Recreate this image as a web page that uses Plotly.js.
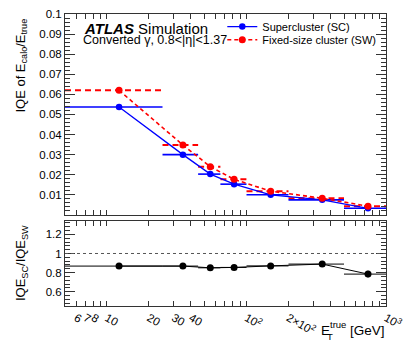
<!DOCTYPE html>
<html><head><meta charset="utf-8">
<script src="https://cdn.plot.ly/plotly-3.0.1.min.js"></script>
<style>html,body{margin:0;padding:0;background:#fff}</style>
</head><body><div id="plot" style="width:407px;height:344px"></div>
<script>
const binLo = [5, 25, 45, 65, 100, 200, 500];
const binHi = [25, 45, 65, 100, 200, 500, 1000];
const etMean = [12.2, 35, 55, 81.5, 149, 349, 743];
const iqeSC = [0.0537, 0.0300, 0.0203, 0.0153, 0.0100, 0.0075, 0.0033];
const iqeSW = [0.0620, 0.0348, 0.0240, 0.0177, 0.0118, 0.0083, 0.0043];
const ratio = [0.868, 0.868, 0.850, 0.854, 0.870, 0.889, 0.784];
const ratioErr = [0.006, 0.006, 0.006, 0.006, 0.006, 0.008, 0.035];
const xTickVals = [6, 7, 8, 10, 20, 30, 40, 100, 200, 1000];
const xTickText = ['6', '7', '8', '10', '20', '30', '40', '10<sup>2</sup>', '2×10<sup>2</sup>', '10<sup>3</sup>'];
const xMinorVals = [5, 9, 50, 60, 70, 80, 90, 300, 400, 500, 600, 700, 800, 900];
const xMajorVals = [10, 100, 1000];
const yTopVals = [0.01, 0.02, 0.03, 0.04, 0.05, 0.06, 0.07, 0.08, 0.09, 0.1];
const yTopText = ['0.01', '0.02', '0.03', '0.04', '0.05', '0.06', '0.07', '0.08', '0.09', '0.1'];
const yBotVals = [0.6, 0.8, 1, 1.2];
const yBotText = ['0.6', '0.8', '1', '1.2'];

function hbars(lo, hi, v) {
  const x = [], y = [];
  for (let i = 0; i < v.length; i++) { x.push(lo[i], hi[i], null); y.push(v[i], v[i], null); }
  return {x, y};
}
const blue = '#0000ff', red = '#ff0000';
const bSC = hbars(binLo, binHi, iqeSC), bSW = hbars(binLo, binHi, iqeSW), bR = hbars(binLo, binHi, ratio);
const font = 'Liberation Sans, Arial, sans-serif';
const traces = [
  {x: bSW.x, y: bSW.y, xaxis: 'x2', yaxis: 'y2', mode: 'lines', line: {color: red, width: 2, dash: '6px,4px'}, showlegend: false, hoverinfo: 'skip'},
  {x: bSC.x, y: bSC.y, xaxis: 'x2', yaxis: 'y2', mode: 'lines', line: {color: blue, width: 1.6}, showlegend: false, hoverinfo: 'skip'},
  {x: etMean, y: iqeSC, xaxis: 'x2', yaxis: 'y2', mode: 'lines+markers', name: 'Supercluster (SC)', legend: 'legend',
   line: {color: blue, width: 1.3}, marker: {color: blue, size: 6.5, symbol: 'circle'}},
  {x: etMean, y: iqeSW, xaxis: 'x2', yaxis: 'y2', mode: 'lines+markers', name: 'Fixed-size cluster (SW)', legend: 'legend2',
   line: {color: red, width: 1.6, dash: '4px,3px'}, marker: {color: red, size: 7, symbol: 'circle'}},
  {x: bR.x, y: bR.y, xaxis: 'x', yaxis: 'y', mode: 'lines', line: {color: '#000', width: 1}, showlegend: false, hoverinfo: 'skip'},
  {x: etMean, y: ratio, xaxis: 'x', yaxis: 'y', mode: 'lines+markers', showlegend: false,
   line: {color: '#000', width: 1}, marker: {color: '#000', size: 7},
   error_y: {type: 'data', array: ratioErr, visible: true, color: '#000', thickness: 1, width: 0}}
];
const frame = {showline: true, linecolor: '#333', linewidth: 1, mirror: 'allticks', ticks: 'inside', tickcolor: '#333', zeroline: false, showgrid: false};
const xr = [Math.log10(5), 3];
const tickFont = {family: font, size: 11.5, color: '#000'};
function xaxisBase(extra) {
  return Object.assign({}, frame, {type: 'log', range: xr, tickmode: 'array', tickvals: xTickVals, ticktext: xTickText, ticklen: 5,
    minor: {tickmode: 'array', tickvals: xMinorVals, ticklen: 5, ticks: 'inside', tickcolor: '#333', showgrid: false},
    tickfont: tickFont}, extra);
}
const legFont = {family: font, size: 11, color: '#000'};
const layout = {
  width: 407, height: 344,
  margin: {l: 65, r: 21, t: 14, b: 38},
  paper_bgcolor: '#fff', plot_bgcolor: '#fff',
  font: {family: font, size: 12, color: '#000'},
  xaxis: xaxisBase({anchor: 'y', domain: [0, 1]}),
  xaxis2: xaxisBase({anchor: 'y2', matches: 'x', showticklabels: false}),
  xaxis3: Object.assign({}, frame, {type: 'log', range: xr, overlaying: 'x', anchor: 'y', tickmode: 'array', tickvals: xMajorVals, showticklabels: false, ticklen: 10, showline: false}),
  xaxis4: Object.assign({}, frame, {type: 'log', range: xr, overlaying: 'x2', anchor: 'y2', tickmode: 'array', tickvals: xMajorVals, showticklabels: false, ticklen: 10, showline: false}),
  yaxis: Object.assign({}, frame, {domain: [0, 0.291], range: [0.45, 1.34], tickmode: 'array', tickvals: yBotVals, ticktext: yBotText, ticklen: 10,
    minor: {dtick: 0.04, ticklen: 5, ticks: 'inside', tickcolor: '#333', showgrid: false}, tickfont: tickFont}),
  yaxis2: Object.assign({}, frame, {domain: [0.312, 1], range: [0, 0.1], tickmode: 'array', tickvals: yTopVals, ticktext: yTopText, ticklen: 10,
    minor: {dtick: 0.002, ticklen: 5, ticks: 'inside', tickcolor: '#333', showgrid: false}, tickfont: tickFont}),
  legend: {x: 0.49, y: 0.957, xanchor: 'left', yanchor: 'middle', bgcolor: 'rgba(0,0,0,0)', font: legFont, itemwidth: 30},
  legend2: {x: 0.49, y: 0.912, xanchor: 'left', yanchor: 'middle', bgcolor: 'rgba(0,0,0,0)', font: legFont, itemwidth: 30},
  shapes: [{type: 'line', xref: 'x domain', x0: 0, x1: 1, yref: 'y', y0: 1, y1: 1, line: {color: '#555', width: 1, dash: 'dot'}}],
  annotations: [
    {xref: 'paper', yref: 'paper', x: 0.053, y: 0.949, xanchor: 'left', yanchor: 'middle', showarrow: false,
     text: '<b><i>ATLAS</i></b> Simulation', font: {family: font, size: 15, color: '#000'}},
    {xref: 'paper', yref: 'paper', x: 0.05, y: 0.91, xanchor: 'left', yanchor: 'middle', showarrow: false,
     text: 'Converted γ, 0.8<|η|<1.37', font: {family: font, size: 12.5, color: '#000'}},
    {xref: 'paper', yref: 'paper', x: -0.135, y: 0.99, xanchor: 'center', yanchor: 'top', showarrow: false, textangle: -90,
     text: 'IQE of E<sub>calo</sub>/E<sub>true</sub>', font: {family: font, size: 13, color: '#000'}},
    {xref: 'paper', yref: 'paper', x: -0.135, y: 0.146, xanchor: 'center', yanchor: 'middle', showarrow: false, textangle: -90,
     text: 'IQE<sub>SC</sub>/IQE<sub>SW</sub>', font: {family: font, size: 13, color: '#000'}},
    {xref: 'paper', yref: 'paper', x: 0.792, y: -0.084, xanchor: 'left', yanchor: 'middle', showarrow: false,
     text: 'E', font: {family: font, size: 13.5, color: '#000'}},
    {xref: 'paper', yref: 'paper', x: 0.818, y: -0.064, xanchor: 'left', yanchor: 'middle', showarrow: false,
     text: 'true', font: {family: font, size: 9.5, color: '#000'}},
    {xref: 'paper', yref: 'paper', x: 0.809, y: -0.104, xanchor: 'left', yanchor: 'middle', showarrow: false,
     text: 'T', font: {family: font, size: 9.5, color: '#000'}},
    {xref: 'paper', yref: 'paper', x: 1.004, y: -0.084, xanchor: 'right', yanchor: 'middle', showarrow: false,
     text: '[GeV]', font: {family: font, size: 13.5, color: '#000'}}
  ]
};
Plotly.newPlot('plot', traces, layout, {staticPlot: true, displayModeBar: false});
</script></body></html>
